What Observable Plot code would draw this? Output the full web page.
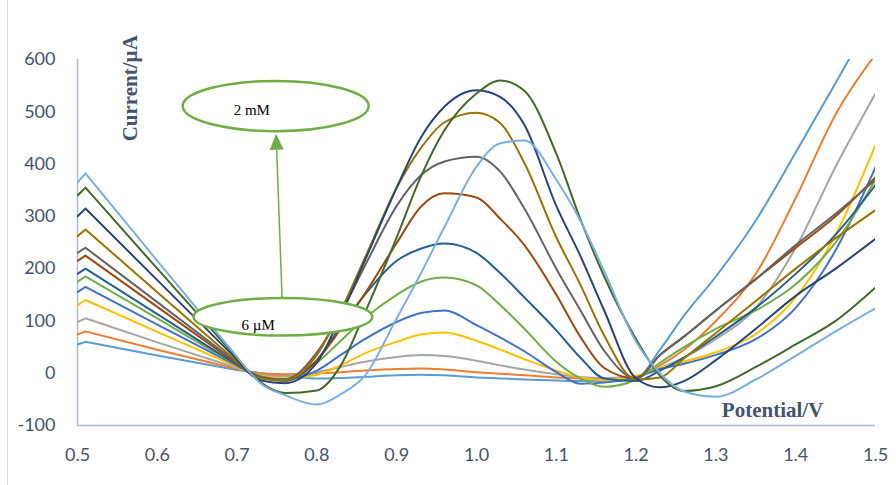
<!DOCTYPE html>
<html><head><meta charset="utf-8">
<script src="https://cdn.jsdelivr.net/npm/d3@7"></script>
<script src="https://cdn.jsdelivr.net/npm/@observablehq/plot@0.6"></script>
<style>
html,body{margin:0;padding:0;background:#fff;}
#wrap{position:relative;width:896px;height:485px;overflow:hidden;}
#border{position:absolute;left:7px;top:0;width:0;height:485px;border-left:1px solid #D9D9D9;}
</style></head><body><div id="wrap"><div id="border"></div></div>
<script>
// Potential (V) sample positions shared by all curves
const potential = [0.50, 0.51, 0.60, 0.70, 0.73, 0.76, 0.80, 0.83, 0.86, 0.90, 0.93, 0.96, 1.00, 1.03, 1.06, 1.10, 1.13, 1.16, 1.20, 1.23, 1.26, 1.30, 1.35, 1.40, 1.45, 1.50];

// Current (µA), one array per concentration (6 µM ... 2 mM)
const s1  = [55, 60, 34, 6, 0, -5, -10, -9, -7, -4, -3, -4, -8, -10, -12, -14, -15, -15, -10, 45, 110, 185, 292, 422, 555, 690];
const s2  = [74, 80, 45, 8, 0, -2, 0, 2, 5, 8, 9, 7, 2, -1, -4, -8, -10, -11, -6, 15, 45, 100, 190, 335, 495, 610];
const s3  = [98, 105, 59, 10, -3, -6, 2, 12, 22, 31, 35, 33, 24, 15, 7, -2, -7, -9, -6, 10, 30, 65, 125, 240, 395, 535];
const s4  = [130, 140, 79, 12, -5, -10, -3, 15, 38, 60, 74, 78, 62, 45, 27, 5, -8, -13, -5, 10, 22, 40, 75, 145, 265, 436];
const s5  = [155, 165, 93, 14, -6, -12, 5, 35, 65, 98, 115, 120, 92, 68, 42, 2, -20, -18, -8, 8, 18, 35, 65, 125, 235, 394];
const s6  = [175, 185, 105, 15, -7, -13, 20, 62, 105, 150, 175, 183, 168, 130, 85, 22, -10, -26, -12, 20, 50, 85, 120, 170, 250, 370];
const s7  = [190, 200, 113, 16, -8, -15, 25, 90, 150, 215, 238, 248, 230, 191, 145, 82, 30, -10, -15, 5, 30, 70, 125, 190, 265, 360];
const s8  = [215, 225, 127, 18, -8, -12, 25, 85, 152, 249, 318, 344, 336, 295, 245, 150, 70, 10, -10, 35, 70, 120, 180, 240, 300, 375];
const s9  = [230, 240, 136, 20, -9, -12, 40, 115, 205, 320, 378, 405, 414, 385, 315, 200, 121, 43, -10, 35, 70, 120, 180, 245, 305, 370];
const s10 = [262, 275, 155, 22, -10, -14, 35, 120, 220, 355, 430, 480, 498, 478, 402, 260, 170, 72, -12, -8, 28, 77, 138, 200, 258, 312];
const s11 = [300, 315, 178, 26, -14, -19, 20, 110, 215, 355, 450, 510, 541, 528, 475, 320, 225, 120, -10, -27, -15, 25, 85, 148, 200, 257];
const s12 = [340, 355, 200, 29, -18, -38, -33, 15, 115, 260, 375, 465, 535, 560, 540, 420, 295, 185, 65, -5, -34, -25, 12, 55, 100, 164];
const s13 = [365, 382, 215, 31, -20, -42, -60, -40, -5, 105, 190, 280, 395, 440, 445, 370, 292, 195, 60, 0, -35, -45, -12, 33, 80, 124];

const seriesNames = ["s1","s2","s3","s4","s5","s6","s7","s8","s9","s10","s11","s12","s13"];
const seriesValues = [s1, s2, s3, s4, s5, s6, s7, s8, s9, s10, s11, s12, s13];
const seriesColors = ["#5B9BD5","#ED7D31","#A5A5A5","#FFC000","#4472C4","#70AD47","#255E91","#9E480E","#636363","#997300","#264478","#43682B","#7CAFDD"];

const xTicks = [0.5, 0.6, 0.7, 0.8, 0.9, 1.0, 1.1, 1.2, 1.3, 1.4, 1.5];
const yTicks = [-100, 0, 100, 200, 300, 400, 500, 600];

const yLabel = "Current/µA";
const xLabel = "Potential/V";
const lowLabel = "6 µM";
const highLabel = "2 mM";

const rows = seriesNames.flatMap((s, i) => potential.map((x, j) => ({s, x, y: seriesValues[i][j]})));
const straightPart = rows.filter(d => d.x <= 0.70);
const curvedPart = rows.filter(d => d.x >= 0.70);

const serif = "'Liberation Serif', 'Times New Roman', serif";

const plot = Plot.plot({
  width: 896, height: 485,
  marginLeft: 77, marginRight: 21, marginTop: 59, marginBottom: 60,
  style: {fontFamily: "Lato, sans-serif", fontSize: "18px", color: "#44546A", background: "transparent", overflow: "visible"},
  x: {domain: [0.5, 1.5], ticks: xTicks, tickFormat: d3.format(".1f"), tickSize: 0, tickPadding: 23, label: null},
  y: {domain: [-100, 600], ticks: yTicks, tickFormat: d => String(d), tickSize: 0, tickPadding: 22, label: null},
  color: {domain: seriesNames, range: seriesColors},
  marks: [
    Plot.ruleX([0.5], {stroke: "#AEBACB", strokeWidth: 1.5}),
    Plot.ruleY([-100], {stroke: "#AEBACB", strokeWidth: 1.5}),
    Plot.line(straightPart, {x: "x", y: "y", z: "s", stroke: "s", strokeWidth: 2, curve: "linear", clip: true}),
    Plot.line(curvedPart, {x: "x", y: "y", z: "s", stroke: "s", strokeWidth: 2, curve: "monotone-x", clip: true}),
    Plot.text([yLabel], {x: 0.566, y: 545, text: d => d, rotate: -90, fontWeight: "bold", fontFamily: serif, fontSize: 21, fill: "#44546A"}),
    Plot.text([xLabel], {x: 1.371, y: -70, text: d => d, fontWeight: "bold", fontFamily: serif, fontSize: 21, fill: "#44546A"})
  ]
});

// annotations (data coordinates)
const annoEllipses = [
  {cx: 0.758, cy: 107, rx: 0.112, ry: 36, label: lowLabel, tx: 0.727, ty: 92},
  {cx: 0.749, cy: 510, rx: 0.1165, ry: 48, label: highLabel, tx: 0.719, ty: 503}
];
const annoArrow = {x1: 0.757, y1: 143, x2: 0.7495, y2: 457};

const xs = plot.scale("x"), ys = plot.scale("y");
const svg = d3.select(plot);
const g = svg.append("g");
const pxPerY = Math.abs(ys.apply(0) - ys.apply(1));
const pxPerX = Math.abs(xs.apply(1) - xs.apply(0));
// arrow
const ax1 = xs.apply(annoArrow.x1), ay1 = ys.apply(annoArrow.y1);
const ax2 = xs.apply(annoArrow.x2), ay2 = ys.apply(annoArrow.y2);
const ang = Math.atan2(ay2 - ay1, ax2 - ax1);
const headLen = 16, headW = 7;
const bx = ax2 - headLen * Math.cos(ang), by = ay2 - headLen * Math.sin(ang);
g.append("line").attr("x1", ax1).attr("y1", ay1).attr("x2", bx).attr("y2", by)
  .attr("stroke", "#70AD47").attr("stroke-width", 1.5);
g.append("polygon").attr("fill", "#70AD47")
  .attr("points", [
    [ax2, ay2],
    [bx + headW * Math.sin(ang), by - headW * Math.cos(ang)],
    [bx - headW * Math.sin(ang), by + headW * Math.cos(ang)]
  ].map(p => p.join(",")).join(" "));
for (const e of annoEllipses) {
  g.append("ellipse")
    .attr("cx", xs.apply(e.cx)).attr("cy", ys.apply(e.cy))
    .attr("rx", e.rx * pxPerX).attr("ry", e.ry * pxPerY)
    .attr("fill", "#fff").attr("stroke", "#70AD47").attr("stroke-width", 2.5);
  g.append("text")
    .attr("x", xs.apply(e.tx)).attr("y", ys.apply(e.ty))
    .attr("text-anchor", "middle").attr("dy", "0.35em")
    .attr("font-family", serif).attr("font-size", 15).attr("fill", "#000")
    .text(e.label);
}

document.getElementById("wrap").appendChild(plot);
</script>
</body></html>
